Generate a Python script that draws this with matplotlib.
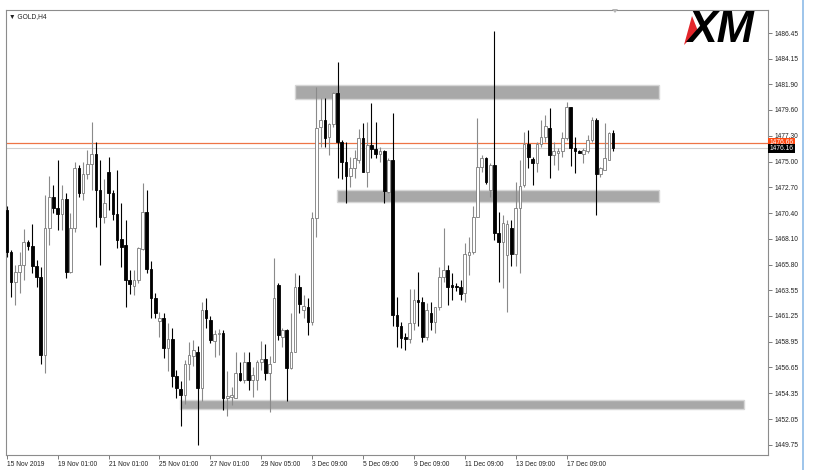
import numpy as np
import matplotlib
matplotlib.use('Agg')
import matplotlib.pyplot as plt
from matplotlib.patches import Rectangle, Polygon

# GOLD H4 candles (bar 0 = 15 Nov 2019)
opens = [
    1470.7, 1466.9, 1464.3, 1465.2, 1465.8, 1467.8, 1467.5, 1465.7, 1464.7, 1457.8,
    1469.1, 1471.8, 1470.9, 1470.3, 1471.7, 1465.2, 1469.1, 1474.4, 1472.2, 1473.9,
    1474.8, 1475.7, 1472.5, 1470.1, 1474.1, 1472.2, 1470.3, 1468.1, 1467.6, 1464.4,
    1463.9, 1464.4, 1467.2, 1470.5, 1465.4, 1462.8, 1460.8, 1461.1, 1458.4, 1459.2,
    1455.9, 1454.7, 1454.2, 1457.0, 1457.7, 1458.0, 1454.8, 1461.8, 1460.9, 1459.0,
    1459.6, 1459.7, 1453.9, 1454.0, 1453.9, 1456.2, 1455.5, 1457.1, 1455.5, 1455.5,
    1457.1, 1457.4, 1456.2, 1457.1, 1464.0, 1459.4, 1460.0, 1456.6, 1458.0, 1463.8,
    1461.8, 1462.0, 1460.7, 1470.0, 1478.1, 1478.7, 1477.2, 1478.3, 1481.1, 1476.7,
    1475.0, 1473.7, 1474.4, 1475.1, 1477.1, 1474.1, 1476.5, 1476.1, 1475.7, 1475.9,
    1472.3, 1475.1, 1461.3, 1460.3, 1459.4, 1459.2, 1460.6, 1462.7, 1462.5, 1459.4,
    1461.5, 1460.7, 1462.0, 1464.7, 1465.3, 1464.0, 1463.9, 1463.8, 1463.3, 1466.7,
    1466.9, 1470.1, 1474.5, 1475.3, 1472.5, 1474.7, 1468.6, 1467.8, 1466.7, 1469.1,
    1466.8, 1470.9, 1472.9, 1476.6, 1475.2, 1474.9, 1476.6, 1477.2, 1478.0, 1475.6,
    1475.8, 1475.9, 1477.1, 1479.9, 1476.2, 1475.9, 1475.7, 1475.9, 1476.9, 1478.7,
    1473.9, 1474.2, 1475.1, 1477.5,
]
highs = [
    1471.0, 1467.1, 1465.8, 1466.9, 1469.0, 1468.0, 1469.4, 1466.2, 1465.6, 1472.0,
    1473.7, 1472.9, 1475.1, 1472.9, 1472.2, 1470.4, 1475.0, 1474.7, 1475.0, 1476.0,
    1478.5, 1476.7, 1475.1, 1473.4, 1475.4, 1472.5, 1474.2, 1471.3, 1469.8, 1465.3,
    1465.3, 1467.4, 1473.1, 1472.5, 1466.1, 1463.3, 1461.6, 1461.5, 1460.6, 1460.2,
    1456.4, 1455.4, 1457.3, 1458.9, 1459.1, 1458.6, 1462.5, 1462.8, 1461.2, 1460.0,
    1460.1, 1460.0, 1456.3, 1454.9, 1458.0, 1457.1, 1458.0, 1458.0, 1456.7, 1457.3,
    1459.0, 1458.7, 1457.7, 1466.4, 1464.2, 1460.2, 1460.1, 1461.5, 1465.1, 1464.9,
    1463.1, 1462.8, 1470.5, 1481.6, 1480.7, 1480.7, 1478.4, 1481.2, 1483.9, 1476.9,
    1476.7, 1475.4, 1476.0, 1477.9, 1478.4, 1478.5, 1480.2, 1478.5, 1476.3, 1476.0,
    1475.3, 1479.3, 1462.9, 1460.7, 1459.7, 1463.6, 1463.6, 1465.2, 1462.9, 1462.4,
    1462.5, 1462.0, 1465.6, 1469.1, 1465.8, 1465.1, 1464.2, 1464.4, 1467.7, 1468.3,
    1471.0, 1478.9, 1475.6, 1475.4, 1474.9, 1486.6, 1470.5, 1470.2, 1469.8, 1469.8,
    1473.2, 1475.1, 1477.6, 1477.8, 1475.4, 1476.7, 1478.7, 1479.1, 1479.8, 1476.7,
    1476.2, 1477.6, 1480.3, 1479.9, 1477.2, 1476.0, 1476.2, 1477.4, 1479.0, 1478.9,
    1474.5, 1478.4, 1477.6, 1477.8,
]
lows = [
    1466.5, 1462.9, 1462.2, 1463.3, 1464.4, 1467.1, 1465.1, 1463.8, 1457.0, 1456.2,
    1467.6, 1470.4, 1468.9, 1468.9, 1464.6, 1465.1, 1468.7, 1471.8, 1471.6, 1473.4,
    1472.5, 1469.2, 1465.8, 1469.5, 1470.7, 1469.8, 1467.3, 1465.6, 1462.0, 1463.2,
    1463.1, 1464.2, 1467.1, 1465.1, 1461.1, 1461.1, 1459.4, 1457.5, 1456.3, 1454.9,
    1453.9, 1451.4, 1453.4, 1455.5, 1456.8, 1449.7, 1453.7, 1460.2, 1458.8, 1457.6,
    1457.8, 1452.9, 1452.3, 1453.3, 1453.9, 1455.4, 1455.3, 1454.6, 1454.0, 1454.6,
    1456.4, 1455.5, 1452.7, 1457.1, 1459.1, 1458.5, 1453.7, 1456.5, 1458.0, 1461.5,
    1461.1, 1459.5, 1460.4, 1468.3, 1476.3, 1476.3, 1475.6, 1478.1, 1473.5, 1473.4,
    1471.3, 1472.7, 1473.5, 1474.9, 1474.1, 1472.7, 1475.3, 1475.3, 1475.0, 1471.3,
    1472.2, 1460.3, 1458.5, 1458.4, 1458.2, 1458.8, 1460.0, 1460.3, 1458.9, 1459.1,
    1460.0, 1459.7, 1461.8, 1464.3, 1462.2, 1462.7, 1463.5, 1462.7, 1462.5, 1464.9,
    1466.8, 1470.1, 1474.1, 1473.0, 1471.8, 1468.0, 1464.3, 1463.7, 1461.6, 1465.7,
    1465.7, 1465.1, 1472.7, 1474.4, 1472.9, 1474.1, 1476.3, 1476.7, 1473.5, 1474.7,
    1474.2, 1475.4, 1476.9, 1474.6, 1474.0, 1475.8, 1474.9, 1475.8, 1476.7, 1470.2,
    1473.6, 1474.2, 1475.1, 1475.9,
]
closes = [
    1466.9, 1464.3, 1465.2, 1465.8, 1467.8, 1467.5, 1465.7, 1464.7, 1457.8, 1469.1,
    1471.8, 1470.9, 1470.3, 1471.7, 1465.2, 1469.1, 1474.4, 1472.2, 1473.9, 1474.8,
    1475.7, 1472.5, 1470.1, 1471.3, 1472.2, 1470.3, 1468.0, 1467.4, 1464.4, 1464.1,
    1464.4, 1467.3, 1470.5, 1465.4, 1462.8, 1461.5, 1461.1, 1458.4, 1459.2, 1455.9,
    1454.8, 1454.2, 1457.0, 1457.8, 1458.2, 1454.8, 1461.8, 1461.1, 1459.1, 1459.6,
    1459.7, 1453.9, 1454.1, 1454.2, 1456.2, 1455.5, 1457.1, 1455.5, 1456.0, 1457.1,
    1457.4, 1456.2, 1457.0, 1462.8, 1459.5, 1460.0, 1456.6, 1458.0, 1463.8, 1462.3,
    1462.1, 1460.7, 1470.0, 1478.0, 1478.7, 1477.1, 1478.3, 1481.1, 1476.7, 1475.0,
    1473.7, 1474.4, 1475.3, 1477.1, 1474.1, 1476.5, 1476.1, 1475.7, 1475.9, 1472.4,
    1475.1, 1461.3, 1460.3, 1459.3, 1459.2, 1460.6, 1462.7, 1462.5, 1459.4, 1461.8,
    1460.7, 1462.0, 1464.7, 1465.3, 1463.8, 1463.8, 1463.8, 1463.2, 1466.8, 1466.9,
    1470.1, 1474.5, 1475.3, 1473.2, 1474.7, 1468.6, 1467.8, 1469.5, 1469.4, 1466.8,
    1470.9, 1472.8, 1476.6, 1475.4, 1474.9, 1476.6, 1477.2, 1478.2, 1475.6, 1475.9,
    1475.9, 1477.1, 1479.9, 1476.2, 1475.9, 1475.8, 1476.0, 1476.9, 1478.7, 1473.9,
    1474.4, 1475.3, 1477.5, 1476.2,
]

time_labels = ["15 Nov 2019", "19 Nov 01:00", "21 Nov 01:00", "25 Nov 01:00",
               "27 Nov 01:00", "29 Nov 05:00", "3 Dec 09:00", "5 Dec 09:00",
               "9 Dec 09:00", "11 Dec 09:00", "13 Dec 09:00", "17 Dec 09:00"]
time_label_bars = [0, 12, 24, 36, 48, 60, 72, 84, 96, 108, 120, 132]

price_ticks = [1486.45, 1484.15, 1481.90, 1479.60, 1477.30, 1475.00, 1472.70,
               1470.40, 1468.10, 1465.80, 1463.55, 1461.25, 1458.95, 1456.65,
               1454.35, 1452.05, 1449.75]

ask_price = 1476.66
bid_price = 1476.16

# supply / demand zones drawn on the chart
zone_start = [68.0, 77.9, 40.8]
zone_end = [153.8, 153.8, 173.9]
zone_low = [1480.6, 1471.4, 1452.95]
zone_high = [1481.8, 1472.45, 1453.75]

plt.rcParams['font.family'] = ['Liberation Sans', 'DejaVu Sans']

fig = plt.figure(figsize=(8.2, 4.7), dpi=100)
ax = fig.add_axes([6 / 820, 15 / 470, 762 / 820, 445 / 470])

o = np.array(opens)
c = np.array(closes)
h = np.maximum(np.array(highs), np.maximum(o, c))
l = np.minimum(np.array(lows), np.minimum(o, c))
x = np.arange(len(o))
bull = c >= o

# zones
for s, e, lo, hi in zip(zone_start, zone_end, zone_low, zone_high):
    ax.add_patch(Rectangle((s, lo), e - s, hi - lo, facecolor='#a8a8a8',
                           edgecolor='#d6d6d6', linewidth=1.0, zorder=1))

# ask / bid lines
ax.axhline(ask_price, color='#ee7446', linewidth=0.9, zorder=1.5)
ax.axhline(bid_price, color='#cfcfcf', linewidth=0.8, zorder=1.5)

# candles
wick_cols = np.where(bull, '#8a8a8a', '#000000')
ax.vlines(x, l, h, colors=wick_cols, linewidth=0.8, zorder=2)
body_bottom = np.minimum(o, c)
body_height = np.maximum(np.abs(c - o), 0.06)
ax.bar(x[bull], body_height[bull], bottom=body_bottom[bull], width=0.62,
       color='white', edgecolor='#7a7a7a', linewidth=0.6, zorder=3)
ax.bar(x[~bull], body_height[~bull], bottom=body_bottom[~bull], width=0.62,
       color='black', edgecolor='black', linewidth=0.6, zorder=3)

ax.set_xlim(-0.2, -0.2 + 762 / 4.24)
ax.set_ylim(1448.85, 1488.50)

# axes look (MT4 style)
for sp in ax.spines.values():
    sp.set_color('#8c8c8c')
    sp.set_linewidth(0.8)
ax.yaxis.tick_right()
ax.set_yticks(price_ticks)
ax.set_yticklabels([f'{p:.2f}' for p in price_ticks])
ax.set_xticks(time_label_bars)
ax.set_xticklabels(time_labels)
for lbl in ax.get_xticklabels():
    lbl.set_horizontalalignment('left')
ax.tick_params(axis='both', direction='out', length=3, width=0.6,
               color='#666666', labelsize=4.8, labelcolor='#222222', pad=1.5)

# price tags on the right scale
ax.text(1.002, ask_price, f'{ask_price:.2f}', transform=ax.get_yaxis_transform(),
        ha='left', va='center', fontsize=4.8, color='white', zorder=6,
        bbox=dict(boxstyle='square,pad=0.2', fc='#ff4a12', ec='none'), clip_on=False)
ax.text(1.002, bid_price, f'{bid_price:.2f}', transform=ax.get_yaxis_transform(),
        ha='left', va='center', fontsize=4.8, color='white', zorder=6,
        bbox=dict(boxstyle='square,pad=0.2', fc='black', ec='none'), clip_on=False)

ax.text(0.004, 0.985, '\u25bc GOLD,H4', transform=ax.transAxes, ha='left', va='center',
        fontsize=4.8, color='#222222')

# overlay in pixel coordinates: logo, window border, shift marker
ov = fig.add_axes([0, 0, 1, 1])
ov.set_xlim(0, 820)
ov.set_ylim(470, 0)
ov.axis('off')
ov.add_patch(Polygon([(692, 16), (684, 45), (698, 31)], closed=True,
                     facecolor='#e3262b', edgecolor='none'))
ov.text(687, 31, 'XM', ha='left', va='center', fontsize=32, fontweight='bold',
        fontstyle='italic', color='black')
ov.axvline(803, color='#8dbbe8', linewidth=1.2)
ov.add_patch(Polygon([(612, 9), (618, 9), (615, 13)], closed=True,
                     facecolor='#b5b5b5', edgecolor='none'))

fig.savefig('out.png', dpi=100, facecolor='white')
